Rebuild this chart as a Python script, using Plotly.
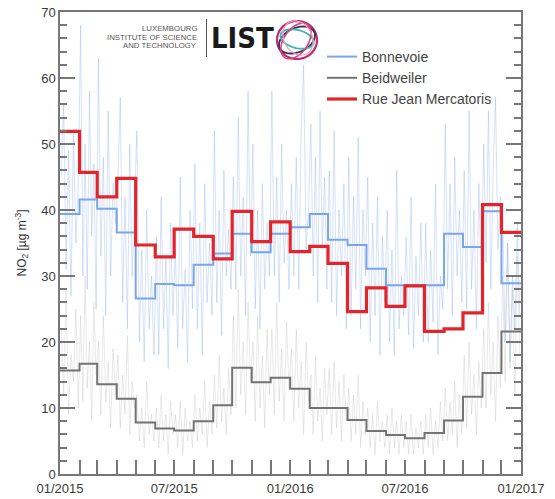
import numpy as np
import pandas as pd
import plotly.graph_objects as go

# ---------------- data ----------------
months = pd.date_range("2015-01-01", "2016-12-01", freq="MS")

bonnevoie_monthly = [39.4, 41.6, 40.2, 36.6, 26.6, 28.8, 28.6, 31.7, 33.4, 36.4, 33.6, 36.4,
                     37.4, 39.4, 35.5, 34.7, 31.1, 28.6, 28.6, 28.6, 36.4, 34.4, 39.8, 28.9]
beidweiler_monthly = [15.7, 16.7, 13.6, 11.4, 7.8, 6.9, 6.6, 8.0, 10.4, 16.1, 13.9, 14.6,
                      12.9, 10.0, 10.0, 8.2, 6.5, 5.9, 5.4, 6.2, 8.1, 11.7, 15.3, 21.6]
mercatoris_monthly = [51.9, 45.7, 42.0, 44.8, 34.7, 32.9, 37.1, 36.0, 32.6, 39.8, 35.2, 38.2,
                      33.7, 34.5, 31.9, 24.6, 28.2, 25.4, 28.5, 21.6, 22.0, 24.4, 40.8, 36.6]

# sub-monthly readings (8 per month), estimated from the faint traces
bonnevoie_daily = [
    45, 56, 31, 49, 27, 52, 35, 44,
    68, 30, 50, 28, 58, 36, 47, 25,
    63, 33, 48, 24, 55, 30, 44, 38,
    45, 57, 26, 42, 22, 50, 30, 40,
    52, 20, 34, 17, 40, 22, 30, 18,
    36, 18, 42, 22, 33, 16, 38, 24,
    34, 19, 45, 22, 31, 17, 40, 25,
    47, 22, 38, 18, 44, 26, 35, 24,
    52, 26, 40, 21, 46, 30, 37, 28,
    45, 28, 54, 30, 42, 24, 58, 33,
    50, 25, 40, 22, 44, 28, 38, 30,
    58, 30, 45, 26, 50, 32, 40, 28,
    44, 30, 48, 28, 52, 62, 34, 40,
    53, 30, 48, 26, 55, 34, 45, 28,
    46, 26, 52, 24, 40, 30, 44, 22,
    48, 24, 42, 28, 51, 22, 40, 30,
    45, 20, 38, 24, 42, 18, 36, 26,
    40, 20, 34, 18, 46, 22, 30, 24,
    36, 21, 42, 19, 33, 24, 38, 20,
    38, 20, 34, 23, 44, 18, 30, 25,
    53, 28, 44, 24, 48, 30, 40, 26,
    46, 25, 55, 28, 40, 22, 44, 30,
    50, 32, 55, 28, 46, 57, 34, 42,
    40, 20, 35, 17, 30, 22, 38, 24,
]
beidweiler_daily = [
    22, 12, 28, 9, 18, 14, 25, 10,
    24, 11, 30, 13, 20, 8, 26, 15,
    20, 9, 24, 11, 17, 7, 19, 12,
    18, 7, 15, 9, 21, 6, 14, 10,
    12, 5, 10, 4, 14, 6, 9, 5,
    10, 4, 12, 5, 9, 3, 11, 6,
    9, 4, 11, 3, 10, 5, 8, 4,
    12, 5, 10, 6, 14, 4, 11, 6,
    15, 7, 18, 8, 13, 6, 16, 9,
    24, 10, 28, 12, 20, 9, 26, 14,
    20, 8, 24, 10, 18, 7, 22, 12,
    22, 9, 26, 11, 19, 8, 23, 13,
    19, 8, 22, 10, 17, 6, 20, 11,
    15, 6, 18, 8, 13, 5, 16, 9,
    16, 6, 17, 7, 14, 5, 15, 8,
    13, 5, 12, 6, 15, 4, 11, 6,
    10, 4, 9, 3, 11, 5, 8, 4,
    9, 3, 10, 4, 8, 3, 9, 4,
    8, 3, 9, 3, 7, 4, 8, 3,
    9, 4, 10, 3, 8, 4, 11, 5,
    13, 5, 11, 6, 14, 4, 12, 6,
    18, 7, 20, 9, 15, 6, 17, 10,
    22, 10, 26, 12, 20, 8, 24, 13,
    30, 14, 35, 16, 28, 12, 33, 18,
]

series_names = ["Bonnevoie", "Beidweiler", "Rue Jean Mercatoris"]
x_tick_format = "%m/%Y"

# ---------------- helpers ----------------
end_date = pd.Timestamp("2017-01-01")
step_x = list(months) + [end_date]

def sub_dates(n_per_month):
    out = []
    for m in months:
        nxt = m + pd.offsets.MonthBegin(1)
        span = (nxt - m) / n_per_month
        for k in range(n_per_month):
            out.append(m + span * (k + 0.5))
    return out

daily_x = sub_dates(8)

fig = go.Figure()

fig.add_trace(go.Scatter(x=daily_x, y=beidweiler_daily, mode="lines",
                         line=dict(color="rgba(175,175,175,0.28)", width=1),
                         showlegend=False, hoverinfo="skip"))
fig.add_trace(go.Scatter(x=daily_x, y=bonnevoie_daily, mode="lines",
                         line=dict(color="rgba(125,165,235,0.32)", width=1),
                         showlegend=False, hoverinfo="skip"))

fig.add_trace(go.Scatter(x=step_x, y=bonnevoie_monthly + [bonnevoie_monthly[-1]],
                         mode="lines", line=dict(color="#7aa5ea", width=2, shape="hv"),
                         name=series_names[0]))
fig.add_trace(go.Scatter(x=step_x, y=beidweiler_monthly + [beidweiler_monthly[-1]],
                         mode="lines", line=dict(color="#737373", width=2, shape="hv"),
                         name=series_names[1]))
fig.add_trace(go.Scatter(x=step_x, y=mercatoris_monthly + [mercatoris_monthly[-1]],
                         mode="lines", line=dict(color="#e0262b", width=3.2, shape="hv"),
                         name=series_names[2]))

# ---------------- layout ----------------
W, H = 555, 499
L, R, T, B = 60, 34, 12, 25
PW, PH = W - L - R, H - T - B

def px2paper(px, py):
    return (px - L) / PW, (T + PH - py) / PH

def ellipse_path(cx, cy, rx, ry, ang_deg, n=60):
    a = np.deg2rad(ang_deg)
    pts = []
    for t in np.linspace(0, 2 * np.pi, n):
        ex = rx * np.cos(t)
        ey = ry * np.sin(t)
        xx = cx + ex * np.cos(a) - ey * np.sin(a)
        yy = cy + ex * np.sin(a) + ey * np.cos(a)
        pts.append(px2paper(xx, yy))
    return "M " + " L ".join(f"{p[0]:.5f},{p[1]:.5f}" for p in pts) + " Z"

shapes = []
# logo separator line
x0p, y0p = px2paper(206.5, 19)
x1p, y1p = px2paper(206.5, 57)
shapes.append(dict(type="line", xref="paper", yref="paper", x0=x0p, y0=y0p, x1=x1p, y1=y1p,
                   line=dict(color="#555555", width=1)))
# logo ellipses
logo = [
    (297, 40, 20, 19, 0, "#c4286e", 2.2),
    (297, 40, 19, 12, -25, "#3b2f5e", 1.8),
    (297, 39, 17, 9, 15, "#3fb6b2", 1.8),
    (296, 41, 12, 20, 35, "#d3477f", 1.6),
    (298, 38, 18, 14, 60, "#e9a3c0", 1.2),
]
for cx, cy, rx, ry, ang, col, w in logo:
    shapes.append(dict(type="path", xref="paper", yref="paper",
                       path=ellipse_path(cx, cy, rx, ry, ang),
                       line=dict(color=col, width=w)))

annotations = []
for txt, py in [("LUXEMBOURG", 28), ("INSTITUTE OF SCIENCE", 37), ("AND TECHNOLOGY", 46)]:
    ax, ay = px2paper(199, py)
    annotations.append(dict(text=txt, x=ax, y=ay, xref="paper", yref="paper",
                            xanchor="right", yanchor="middle", showarrow=False,
                            font=dict(family="Liberation Sans, Arial", size=7.8, color="#555555")))
ax, ay = px2paper(209, 38)
annotations.append(dict(text="<b>LIST</b>", x=ax, y=ay, xref="paper", yref="paper",
                        xanchor="left", yanchor="middle", showarrow=False,
                        font=dict(family="Liberation Sans Narrow, DejaVu Sans Condensed, Arial",
                                  size=29, color="#1a1a1a")))

axis_col = "#777777"
lx, ly = px2paper(322, 41)

fig.update_layout(
    width=W, height=H,
    margin=dict(l=L, r=R, t=T, b=B, pad=0),
    paper_bgcolor="white", plot_bgcolor="white",
    font=dict(family="Liberation Sans, Arial", color="#444444", size=13),
    showlegend=True,
    legend=dict(x=lx, y=ly, xanchor="left", yanchor="top", bgcolor="rgba(0,0,0,0)",
                font=dict(size=14, color="#444444"), tracegroupgap=0),
    shapes=shapes,
    annotations=annotations,
    xaxis=dict(
        type="date", range=["2015-01-01", "2017-01-01"],
        tick0="2015-01-01", dtick="M6", tickformat=x_tick_format,
        ticks="inside", ticklen=14, tickcolor=axis_col, tickwidth=1.5,
        minor=dict(dtick="M1", ticks="inside", ticklen=14, tickcolor=axis_col, tickwidth=1.5,
                   showgrid=False),
        showline=True, linecolor=axis_col, linewidth=1.5, mirror=True,
        showgrid=False, zeroline=False, automargin=False, ticklabelstandoff=2,
        tickfont=dict(size=13, color="#3a3a3a"),
    ),
    yaxis=dict(
        range=[0, 70], dtick=10, tick0=0,
        ticks="inside", ticklen=15, tickcolor=axis_col, tickwidth=1.5,
        minor=dict(dtick=2, ticks="inside", ticklen=7, tickcolor=axis_col, tickwidth=1.5,
                   showgrid=False),
        showline=True, linecolor=axis_col, linewidth=1.5, mirror="allticks",
        showgrid=False, zeroline=False, automargin=False,
        tickfont=dict(size=13, color="#3a3a3a"),
        title=dict(text="NO<sub>2</sub> [µg m<sup>-3</sup>]", font=dict(size=12, color="#333333"),
                   standoff=12),
    ),
)

# remove the browser's default 8px body margin so the figure fills the window exactly
fig.write_html("out.html", config={"displayModeBar": False},
               post_script="document.body.style.margin='0px';")
